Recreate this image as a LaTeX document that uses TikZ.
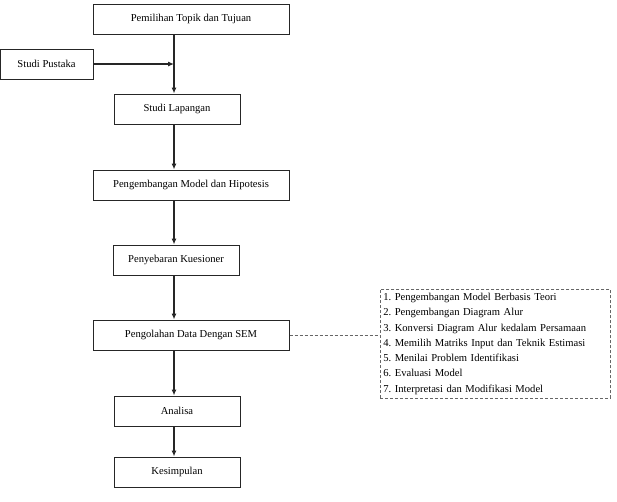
\documentclass[tikz,border=0pt]{standalone}
\usepackage{fontspec}
\setmainfont{Liberation Serif}
\usetikzlibrary{arrows.meta}
\begin{document}
\frenchspacing
\begin{tikzpicture}[x=1pt,y=-1pt,
  box/.style={draw=black!85,line width=1pt,rectangle,minimum height=30pt,inner sep=0pt,font=\fontsize{10.6}{12}\selectfont},
  wide/.style={box,minimum width=196pt},
  narrow/.style={box,minimum width=126pt},
  arr/.style={draw=black!85,line width=1.1pt,-{Latex[length=6pt,width=5pt]}},
  ]
\useasboundingbox (0,0) rectangle (617,501);
\node[wide] (top) at (191,19) {Pemilihan Topik dan Tujuan};
\node[box,minimum width=93pt] (pus) at (46.5,64) {Studi Pustaka};
\node[narrow] (lap) at (177,109) {Studi Lapangan};
\node[wide] (mod) at (191,185) {Pengembangan Model dan Hipotesis};
\node[narrow] (keu) at (176,260) {Penyebaran Kuesioner};
\node[wide] (sem) at (191,335) {Pengolahan Data Dengan SEM};
\node[narrow] (ana) at (177,411) {Analisa};
\node[narrow] (kes) at (177,472) {Kesimpulan};
\node[draw=black!60,densely dashed,line width=0.6pt,rectangle,anchor=north west,
  text width=224pt,align=left,inner sep=3pt,minimum height=109pt,
  font=\fontsize{10.6}{15.3}\selectfont] (list) at (380,289)
  {1. Pengembangan Model Berbasis Teori\\
   2. Pengembangan Diagram Alur\\
   3. Konversi Diagram Alur kedalam Persamaan\\
   4. Memilih Matriks Input dan Teknik Estimasi\\
   5. Menilai Problem Identifikasi\\
   6. Evaluasi Model\\
   7. Interpretasi dan Modifikasi Model};
\coordinate (j) at (174,64);
\draw[arr] (top.south -| j) -- (lap.north -| j);
\draw[arr] (pus.east) -- (j);
\draw[arr] (lap.south -| j) -- (mod.north -| j);
\draw[arr] (mod.south -| j) -- (keu.north -| j);
\draw[arr] (keu.south -| j) -- (sem.north -| j);
\draw[arr] (sem.south -| j) -- (ana.north -| j);
\draw[arr] (ana.south -| j) -- (kes.north -| j);
\draw[draw=black!60,densely dashed,line width=0.5pt] (sem.east) -- (sem.east -| list.west);
\end{tikzpicture}
\end{document}
